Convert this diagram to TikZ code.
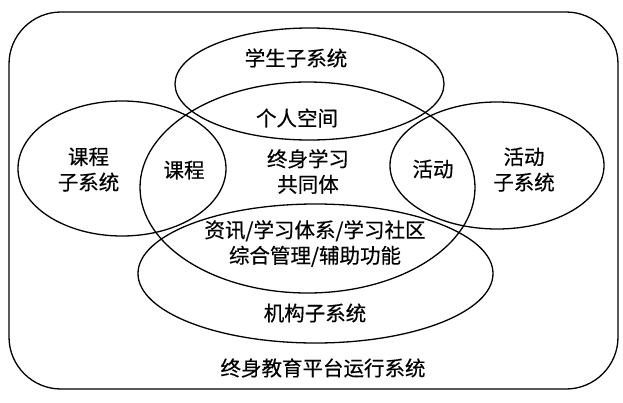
\documentclass[tikz,border=0pt]{standalone}
\usepackage{fontspec}
\setmainfont{Noto Sans CJK SC}[FakeBold=0.4]
\usetikzlibrary{shapes.geometric}
\tikzset{
  ring/.style={draw, line width=1.3pt, ellipse, inner sep=0pt},
  lbl/.style={font=\fontsize{20.5}{25.5}\selectfont, align=center, inner sep=0pt}
}
\begin{document}
\begin{tikzpicture}[x=1pt,y=-1pt]
\useasboundingbox (0,0) rectangle (623,402);
\node[draw, line width=1.3pt, rounded corners=52pt, minimum width=609pt, minimum height=377pt, inner sep=0pt] (outer) at (313.5,200.5) {};
\node[ring, minimum width=269pt, minimum height=112pt] (stu) at (309.5,84) {};
\node[ring, minimum width=335pt, minimum height=211pt] (core) at (307.5,187.5) {};
\node[ring, minimum width=208pt, minimum height=135pt] (course) at (122,168.5) {};
\node[ring, minimum width=214pt, minimum height=127pt] (act) at (497,165.5) {};
\node[ring, minimum width=355pt, minimum height=139pt] (org) at (315.5,273.5) {};
\node[lbl] (tstu) at (296,58) {学生子系统};
\node[lbl] (tper) at (297,118) {个人空间};
\node[lbl] (tcore) at (308,171.5) {终身学习\\共同体};
\node[lbl] (tcourse) at (88.5,169.5) {课程\\子系统};
\node[lbl] (tcin) at (184,170) {课程};
\node[lbl] (tain) at (433,169) {活动};
\node[lbl] (tact) at (524,169.5) {活动\\子系统};
\node[lbl] (tinfo) at (315,243.5) {资讯/学习体系/学习社区\\综合管理/辅助功能};
\node[lbl] (torg) at (315,313) {机构子系统};
\node[lbl] (tall) at (323,368) {终身教育平台运行系统};
\end{tikzpicture}
\end{document}
